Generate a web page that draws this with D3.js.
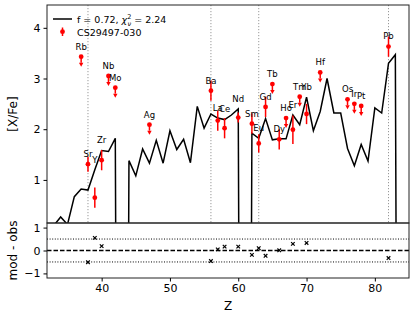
<!DOCTYPE html>
<html>
<head>
<meta charset="utf-8">
<script src="https://cdn.jsdelivr.net/npm/d3@7"></script>
<style>
  body { margin: 0; background: #fff; }
  text { font-family: "DejaVu Sans", sans-serif; }
</style>
</head>
<body>
<div id="my_dataviz"></div>
<script>
// model abundance pattern (atomic number -> [X/Fe])
const modelZ = [33, 34, 35, 36, 37, 38, 39, 40, 41, 42, 43, 44, 45, 46, 47, 48, 49, 50, 51, 52,
  53, 54, 55, 56, 57, 58, 59, 60, 61, 62, 63, 64, 65, 66, 67, 68, 69, 70, 71, 72,
  73, 74, 75, 76, 77, 78, 79, 80, 81, 82, 83, 84];
const modelVal = [0.10, 0.27, 0.12, 0.67, 0.82, 0.80, 1.20, 1.58, 1.56, 1.82, -30, 1.38, 1.08, 1.61, 1.33, 1.78, 1.33, 1.97, 1.60, 1.80,
  1.34, 2.45, 2.02, 2.30, 2.22, 2.19, 2.28, 2.40, -30, 1.92, 1.82, 2.21, 1.79, 1.81, 1.81, 2.28, 2.09, 2.63, 1.97, 2.35,
  3.00, 2.32, 2.32, 1.62, 1.28, 1.70, 1.37, 2.42, 2.32, 3.30, 3.47, -30];

// observed star
const elements = ["Rb", "Sr", "Y", "Zr", "Nb", "Mo", "Ag", "Ba", "La", "Ce", "Nd", "Sm", "Eu", "Gd", "Tb", "Dy", "Ho", "Er", "Tm", "Yb", "Hf", "Os", "Ir", "Pt", "Pb"];
const obsZ = [37, 38, 39, 40, 41, 42, 47, 56, 57, 58, 60, 62, 63, 64, 65, 66, 67, 68, 69, 70, 72, 76, 77, 78, 82];
const obsVal = [3.43, 1.31, 0.65, 1.39, 3.05, 2.82, 2.09, 2.76, 2.17, 2.02, 2.23, 2.11, 1.72, 2.44, 2.89, 1.80, 2.22, 1.99, 2.64, 2.30, 3.12, 2.59, 2.50, 2.46, 3.63];
const obsErr = [0, 0.15, 0.20, 0.20, 0, 0, 0, 0.20, 0.20, 0.20, 0.10, 0.20, 0.18, 0.20, 0, 0.20, 0, 0.28, 0, 0.20, 0, 0, 0, 0, 0.20];
const upperLimit = [1, 0, 0, 0, 1, 1, 1, 0, 0, 0, 0, 0, 0, 0, 1, 0, 1, 0, 1, 0, 1, 1, 1, 1, 0];

const markedZ = [38, 56, 63, 82];
const xTicks = [40, 50, 60, 70, 80];
const yTicksTop = [1, 2, 3, 4];
const yTicksBottom = [-1, 0, 1];
const legendModel = "f = 0.72, ";
const legendChi = "2.24";
const legendStar = "CS29497-030";

const model = modelZ.map((z, i) => ({ z, v: modelVal[i] }));
const modelAt = z => modelVal[modelZ.indexOf(z)];
const obs = obsZ.map((z, i) => ({
  name: elements[i], z, v: obsVal[i], err: obsErr[i], ul: upperLimit[i] === 1
}));

// set the dimensions and margins of the graph
const W = 415, H = 319;
const left = 47, right = 409;
const topY0 = 5, topY1 = 223, botY0 = 223, botY1 = 278;

const svg = d3.select("#my_dataviz")
  .append("svg")
  .attr("width", W)
  .attr("height", H);

const x = d3.scaleLinear().domain([32, 85]).range([left, right]);
const y = d3.scaleLinear().domain([0.15, 4.45]).range([topY1, topY0]);
const yr = d3.scaleLinear().domain([-1.2, 1.2]).range([botY1, botY0]);

svg.append("defs").append("clipPath")
  .attr("id", "clipTop")
  .append("rect")
  .attr("x", left).attr("y", topY0)
  .attr("width", right - left).attr("height", topY1 - topY0);

// vertical dotted markers
svg.append("g")
  .selectAll("line")
  .data(markedZ)
  .join("line")
  .attr("x1", d => x(d)).attr("x2", d => x(d))
  .attr("y1", topY0).attr("y2", topY1)
  .attr("stroke", "#999")
  .attr("stroke-width", 1)
  .attr("stroke-dasharray", "1.2,1.8");

// model line
const line = d3.line()
  .x(d => x(d.z))
  .y(d => y(d.v));

svg.append("path")
  .datum(model)
  .attr("clip-path", "url(#clipTop)")
  .attr("fill", "none")
  .attr("stroke", "black")
  .attr("stroke-width", 1.5)
  .attr("stroke-linejoin", "miter")
  .attr("d", line);

// observations
const red = "#ff0000";
const gObs = svg.append("g").attr("clip-path", "url(#clipTop)");

gObs.selectAll("line.err")
  .data(obs.filter(d => !d.ul))
  .join("line")
  .attr("class", "err")
  .attr("x1", d => x(d.z)).attr("x2", d => x(d.z))
  .attr("y1", d => y(d.v + d.err)).attr("y2", d => y(d.v - d.err))
  .attr("stroke", red)
  .attr("stroke-width", 1.5);

gObs.selectAll("line.ul")
  .data(obs.filter(d => d.ul))
  .join("line")
  .attr("class", "ul")
  .attr("x1", d => x(d.z)).attr("x2", d => x(d.z))
  .attr("y1", d => y(d.v)).attr("y2", d => y(d.v) + 6)
  .attr("stroke", red)
  .attr("stroke-width", 1.5);

gObs.selectAll("path.arrow")
  .data(obs.filter(d => d.ul))
  .join("path")
  .attr("class", "arrow")
  .attr("d", d => {
    const cx = x(d.z), cy = y(d.v) + 10;
    return `M${cx - 2.2},${cy - 4}L${cx + 2.2},${cy - 4}L${cx},${cy}Z`;
  })
  .attr("fill", red);

gObs.selectAll("circle")
  .data(obs)
  .join("circle")
  .attr("cx", d => x(d.z))
  .attr("cy", d => y(d.v))
  .attr("r", 2.4)
  .attr("fill", red);

svg.append("g")
  .selectAll("text")
  .data(obs)
  .join("text")
  .attr("x", d => x(d.z))
  .attr("y", d => y(Math.max(d.v, modelAt(d.z)) + 0.14))
  .attr("text-anchor", "middle")
  .attr("font-size", 8.5)
  .text(d => d.name);

// residual panel
const resid = obs.filter(d => !d.ul).map(d => ({ z: d.z, r: modelAt(d.z) - d.v }));

[0.5, -0.5].forEach(v => {
  svg.append("line")
    .attr("x1", left).attr("x2", right)
    .attr("y1", yr(v)).attr("y2", yr(v))
    .attr("stroke", "black").attr("stroke-width", 1)
    .attr("stroke-dasharray", "1,1.6");
});
svg.append("line")
  .attr("x1", left).attr("x2", right)
  .attr("y1", yr(0)).attr("y2", yr(0))
  .attr("stroke", "black").attr("stroke-width", 1.3)
  .attr("stroke-dasharray", "4.5,2");

svg.append("g")
  .selectAll("path")
  .data(resid)
  .join("path")
  .attr("d", d => {
    const cx = x(d.z), cy = yr(d.r), s = 1.8;
    return `M${cx - s},${cy - s}L${cx + s},${cy + s}M${cx - s},${cy + s}L${cx + s},${cy - s}`;
  })
  .attr("stroke", "black")
  .attr("stroke-width", 1.2);

// frames
[[topY0, topY1], [botY0, botY1]].forEach(([a, b]) => {
  svg.append("rect")
    .attr("x", left).attr("y", a)
    .attr("width", right - left).attr("height", b - a)
    .attr("fill", "none")
    .attr("stroke", "#222")
    .attr("stroke-width", 1);
});

// axes
const gyTop = svg.append("g")
  .attr("transform", `translate(${left},0)`)
  .call(d3.axisLeft(y).tickValues(yTicksTop).tickFormat(d3.format("d")).tickSize(3.5).tickPadding(3));
const gyBot = svg.append("g")
  .attr("transform", `translate(${left},0)`)
  .call(d3.axisLeft(yr).tickValues(yTicksBottom).tickFormat(d => d < 0 ? "\u2212" + Math.abs(d) : d).tickSize(3.5).tickPadding(3));
const gx = svg.append("g")
  .attr("transform", `translate(0,${botY1})`)
  .call(d3.axisBottom(x).tickValues(xTicks).tickSize(3.5).tickPadding(3));

[gyTop, gyBot, gx].forEach(g => {
  g.select(".domain").remove();
  g.selectAll("text").attr("font-size", 11).attr("fill", "black").attr("font-family", "DejaVu Sans");
  g.selectAll("line").attr("stroke", "black");
});

// axis titles
svg.append("text")
  .attr("transform", `translate(17,${(topY0 + topY1) / 2}) rotate(-90)`)
  .attr("text-anchor", "middle")
  .attr("font-size", 12)
  .text("[X/Fe]");
svg.append("text")
  .attr("transform", `translate(17,${(botY0 + botY1) / 2}) rotate(-90)`)
  .attr("text-anchor", "middle")
  .attr("font-size", 12)
  .text("mod - obs");
svg.append("text")
  .attr("x", (left + right) / 2)
  .attr("y", 310)
  .attr("text-anchor", "middle")
  .attr("font-size", 12)
  .text("Z");

// legend
const lg = svg.append("g").attr("transform", `translate(${left},${topY0})`);
lg.append("line")
  .attr("x1", 6).attr("x2", 25).attr("y1", 14).attr("y2", 14)
  .attr("stroke", "black").attr("stroke-width", 1.5);
const t1 = lg.append("text").attr("x", 30).attr("y", 17.5).attr("font-size", 9.5);
t1.append("tspan").text(legendModel);
t1.append("tspan").attr("font-style", "italic").text("\u03c7");
t1.append("tspan").attr("font-size", 6.5).attr("dy", -4).text("2");
t1.append("tspan").attr("font-size", 6.5).attr("font-style", "italic").attr("dx", -3.8).attr("dy", 7).text("\u03bd");
t1.append("tspan").attr("dy", -3).text(" = " + legendChi);

lg.append("line")
  .attr("x1", 15.5).attr("x2", 15.5).attr("y1", 22.5).attr("y2", 31)
  .attr("stroke", red).attr("stroke-width", 1.5);
lg.append("circle")
  .attr("cx", 15.5).attr("cy", 26.7).attr("r", 2.4).attr("fill", red);
lg.append("text").attr("x", 30).attr("y", 30.5).attr("font-size", 9.5).text(legendStar);
</script>
</body>
</html>
